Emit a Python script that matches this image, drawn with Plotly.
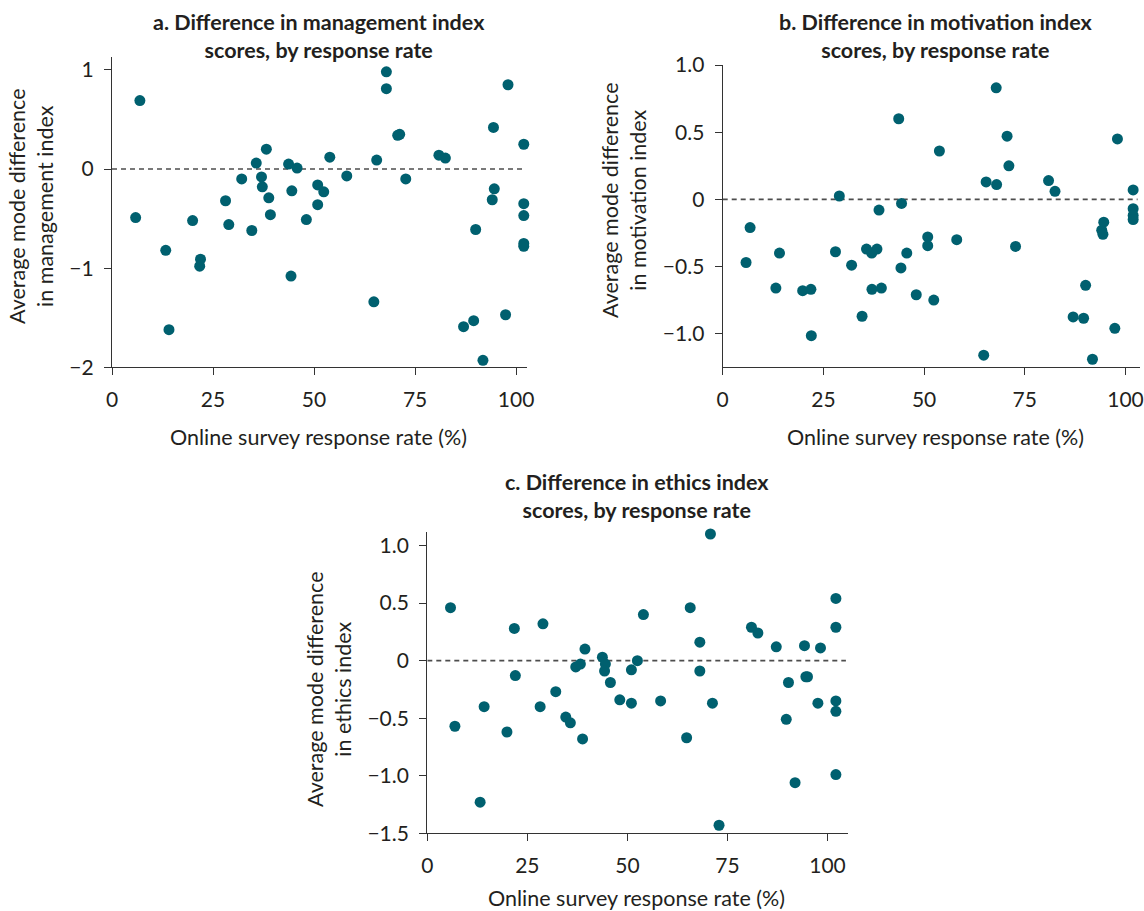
import plotly.graph_objects as go

# ---------------- data ----------------
a_x = [6.9, 5.85, 13.3, 14.1, 19.95, 21.9, 21.7, 28.1, 28.9, 32.1, 34.6, 35.7, 37.0, 37.2, 38.2,
       38.8, 39.2, 43.7, 45.8, 44.5, 44.3, 48.1, 50.9, 52.4, 50.9, 53.9, 58.1, 64.8, 65.5, 67.9,
       67.9, 70.7, 71.2, 72.7, 80.9, 82.5, 87.0, 89.5, 90.0, 91.8, 94.4, 94.6, 94.1, 97.4, 98.0,
       101.9, 101.9, 101.9, 101.9, 101.9]
a_y = [0.69, -0.49, -0.82, -1.62, -0.52, -0.91, -0.98, -0.32, -0.56, -0.10, -0.62, 0.06, -0.08, -0.18, 0.20,
       -0.29, -0.46, 0.05, 0.01, -0.22, -1.08, -0.51, -0.16, -0.23, -0.36, 0.12, -0.07, -1.34, 0.09, 0.98,
       0.81, 0.34, 0.35, -0.10, 0.14, 0.11, -1.59, -1.53, -0.61, -1.93, 0.42, -0.20, -0.31, -1.47, 0.85,
       0.25, -0.35, -0.47, -0.75, -0.78]

b_x = [5.8, 6.8, 13.2, 14.1, 19.85, 21.9, 22.0, 28.0, 28.95, 32.0, 34.6, 35.7, 37.0, 37.05, 38.3,
       38.8, 39.4, 43.7, 44.25, 44.4, 45.7, 48.05, 50.9, 50.9, 52.4, 53.8, 58.1, 64.8, 65.4, 67.9,
       68.0, 70.6, 71.05, 72.7, 80.9, 82.5, 87.0, 89.6, 90.1, 91.8, 94.6, 94.1, 94.4, 97.35, 98.0,
       101.9, 101.9, 101.9, 101.9]
b_y = [-0.47, -0.21, -0.66, -0.40, -0.68, -0.67, -1.015, -0.39, 0.025, -0.49, -0.87, -0.37, -0.40, -0.67, -0.37,
       -0.08, -0.66, 0.60, -0.51, -0.03, -0.40, -0.71, -0.28, -0.345, -0.75, 0.36, -0.30, -1.16, 0.13, 0.83,
       0.11, 0.47, 0.25, -0.35, 0.14, 0.06, -0.875, -0.885, -0.64, -1.19, -0.17, -0.23, -0.26, -0.96, 0.45,
       0.07, -0.07, -0.12, -0.15]

c_x = [5.8, 6.9, 13.2, 14.2, 19.9, 21.75, 22.0, 28.2, 28.9, 32.1, 34.6, 35.75, 37.1, 38.25, 38.8,
       39.4, 43.75, 44.5, 44.3, 45.75, 48.1, 51.0, 51.0, 52.5, 54.0, 58.3, 64.8, 65.7, 68.1, 68.1,
       70.75, 71.25, 72.9, 81.0, 82.6, 87.2, 89.7, 90.25, 91.9, 94.25, 94.6, 95.0, 97.6, 98.25,
       102.1, 102.1, 102.1, 102.1, 102.1]
c_y = [0.46, -0.57, -1.23, -0.40, -0.62, 0.28, -0.13, -0.40, 0.32, -0.27, -0.49, -0.54, -0.055, -0.03, -0.68,
       0.10, 0.03, -0.03, -0.09, -0.19, -0.34, -0.08, -0.37, 0.0, 0.40, -0.35, -0.67, 0.46, 0.16, -0.09,
       1.10, -0.37, -1.43, 0.29, 0.24, 0.12, -0.51, -0.19, -1.06, 0.13, -0.14, -0.14, -0.37, 0.11,
       0.54, 0.29, -0.35, -0.44, -0.99]

titles = ["<b>a. Difference in management index<br>scores, by response rate</b>",
          "<b>b. Difference in motivation index<br>scores, by response rate</b>",
          "<b>c. Difference in ethics index<br>scores, by response rate</b>"]
y_titles = ["Average mode difference<br>in management index",
            "Average mode difference<br>in motivation index",
            "Average mode difference<br>in ethics index"]
x_title = "Online survey response rate (%)"
x_ticks = [0, 25, 50, 75, 100]
a_yticks = [-2, -1, 0, 1]
a_yticktext = ["\u22122", "\u22121", "0", "1"]
bc_yticks = [-1.5, -1.0, -0.5, 0, 0.5, 1.0]
bc_yticktext = ["\u22121.5", "\u22121.0", "\u22120.5", "0", "0.5", "1.0"]

# ---------------- layout helpers ----------------
W, H = 1144, 911
FONT = "Lato, 'Open Sans', sans-serif"
TXT = "#231f20"
AX = "#333333"
MARK = "#00606f"

def px(x):
    return x / W

def py(y):
    return 1 - y / H

fig = go.Figure()

panels = [
    dict(x=a_x, y=a_y, xa="x", ya="y", dom_x=(112, 527), dom_y=(57, 367.3), xr=[0, 102.7], yr=[-2, 1.13],
         yt=a_yticks, ytt=a_yticktext),
    dict(x=b_x, y=b_y, xa="x2", ya="y2", dom_x=(722.7, 1140), dom_y=(65, 367.3), xr=[0, 103.6], yr=[-1.25, 1.0],
         yt=bc_yticks, ytt=bc_yticktext),
    dict(x=c_x, y=c_y, xa="x3", ya="y3", dom_x=(427.3, 848.3), dom_y=(531.7, 833.3), xr=[0, 105.2], yr=[-1.5, 1.12],
         yt=bc_yticks, ytt=bc_yticktext),
]

for i, p in enumerate(panels):
    # zero reference line
    fig.add_trace(go.Scatter(x=[0, p["xr"][1] - 0.6], y=[0, 0], mode="lines", xaxis=p["xa"], yaxis=p["ya"],
                             line=dict(color="#4d4d4d", width=1.6, dash="5px,4px"), hoverinfo="skip",
                             showlegend=False))
    fig.add_trace(go.Scatter(x=p["x"], y=p["y"], mode="markers", xaxis=p["xa"], yaxis=p["ya"],
                             cliponaxis=False,
                             marker=dict(color=MARK, size=11, line=dict(width=0)), showlegend=False))
    suffix = "" if i == 0 else str(i + 1)
    common = dict(showgrid=False, zeroline=False, showline=True, linecolor=AX, linewidth=1.3,
                  ticks="outside", ticklen=7, tickwidth=1.3, tickcolor=AX, automargin=False,
                  ticklabeloverflow="allow", ticklabelstandoff=6,
                  tickfont=dict(family=FONT, size=21, color=TXT))
    fig.layout["xaxis" + suffix] = dict(domain=[px(p["dom_x"][0]), px(p["dom_x"][1])], range=p["xr"],
                                        anchor="y" + suffix, tickvals=x_ticks, **common)
    fig.layout["yaxis" + suffix] = dict(domain=[py(p["dom_y"][1]), py(p["dom_y"][0])], range=p["yr"],
                                        anchor="x" + suffix, tickvals=p["yt"], ticktext=p["ytt"], **common)

# titles
title_pos = [(319, 36), (935, 36), (637, 496)]
for t, (tx, ty) in zip(titles, title_pos):
    fig.add_annotation(text=t, x=px(tx), y=py(ty), xref="paper", yref="paper", showarrow=False,
                       xanchor="center", yanchor="middle", align="center",
                       font=dict(family=FONT, size=21.5, color=TXT))

# x axis titles
xt_pos = [(318, 437), (935, 437), (637, 898)]
for (tx, ty) in xt_pos:
    fig.add_annotation(text=x_title, x=px(tx), y=py(ty), xref="paper", yref="paper", showarrow=False,
                       xanchor="center", yanchor="middle", font=dict(family=FONT, size=21.5, color=TXT))

# y axis titles
yt_pos = [(31, 207), (624, 201), (329, 690)]
for t, (tx, ty) in zip(y_titles, yt_pos):
    fig.add_annotation(text=t, x=px(tx), y=py(ty), xref="paper", yref="paper", showarrow=False,
                       xanchor="center", yanchor="middle", textangle=-90, align="center",
                       font=dict(family=FONT, size=21.5, color=TXT))

fig.update_layout(width=W, height=H, margin=dict(l=0, r=0, t=0, b=0), paper_bgcolor="white",
                  plot_bgcolor="white", showlegend=False)

fig.write_html("out.html")
